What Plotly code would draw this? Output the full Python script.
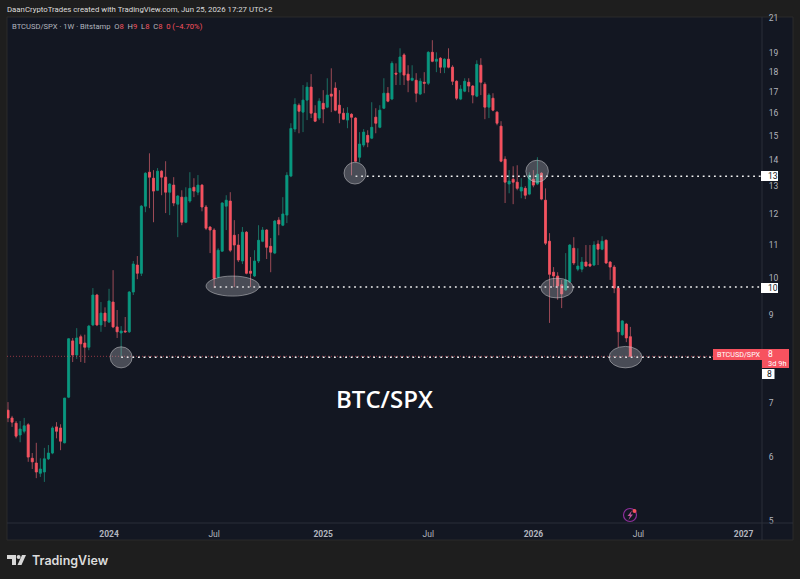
import math
import pandas as pd
import plotly.graph_objects as go

# Weekly BTCUSD/SPX ratio candles
first_week = "2023-07-10"
opens = [6.86,6.71,6.61,6.39,6.46,6.58,5.98,5.90,5.73,5.75,5.97,6.07,6.54,6.52,6.25,7.12,8.36,8.03,8.46,8.31,8.21,8.75,9.53,8.75,9.05,8.82,9.34,8.70,8.55,8.60,8.58,9.61,10.38,10.14,12.28,13.53,13.30,12.85,13.57,13.34,12.78,13.04,12.35,12.60,11.73,12.46,12.96,12.78,13.04,12.25,11.57,11.47,10.03,10.80,12.28,12.46,11.30,10.99,10.50,11.40,10.20,10.06,10.50,11.11,11.47,10.95,10.74,11.80,11.63,11.97,13.38,15.30,16.38,16.06,16.62,17.25,16.01,15.79,16.47,16.29,16.91,17.20,16.38,16.01,15.70,15.96,15.79,14.12,14.62,15.03,14.91,15.83,15.38,16.24,16.95,16.67,17.95,18.00,18.91,17.90,17.59,17.59,16.91,17.49,17.44,19.05,18.57,18.73,18.26,18.68,18.26,17.54,16.67,17.05,17.49,17.30,16.81,18.36,17.39,16.29,16.71,16.06,15.43,14.04,13.08,13.26,13.15,12.82,12.92,12.71,13.26,13.08,13.49,12.49,11.11,10.17,10.06,9.81,9.67,9.89,10.89,10.26,10.26,10.47,10.41,10.38,11.02,10.86,11.14,10.47,10.32,9.72,8.51,8.77,8.46]
highs = [7.02,6.75,6.65,6.65,6.71,6.61,6.07,6.25,5.98,6.16,6.21,6.55,6.63,6.59,7.10,8.43,8.43,8.67,8.51,8.51,8.75,9.72,9.56,9.34,9.20,9.70,10.23,9.13,8.72,8.95,9.64,10.50,10.65,12.32,13.53,14.28,13.61,13.69,13.61,13.96,13.11,13.34,12.67,12.85,12.96,13.53,13.30,13.42,13.08,12.32,11.60,11.53,10.89,12.42,12.67,12.78,11.80,11.34,11.57,11.44,10.62,10.83,11.63,11.57,11.50,11.21,11.80,11.90,12.60,13.53,15.56,16.71,16.47,17.35,17.49,17.90,16.38,16.71,17.10,17.69,18.20,17.49,17.10,16.24,16.29,16.01,15.83,15.17,15.30,15.25,16.52,16.24,16.38,17.69,17.25,18.57,18.46,19.27,19.00,18.36,18.36,17.95,17.69,18.00,19.11,19.72,19.05,18.79,18.73,19.27,18.36,17.59,17.35,17.69,17.69,17.35,18.62,18.73,17.49,16.95,16.95,16.10,15.65,14.16,13.61,13.76,13.80,13.30,13.00,13.53,13.61,14.12,13.53,12.92,11.37,10.32,10.17,9.95,10.74,11.02,11.24,10.89,10.62,10.99,10.99,11.11,11.14,11.27,11.17,10.50,10.38,9.75,8.87,8.80,8.70]
lows = [6.63,6.54,6.33,6.26,6.42,5.92,5.80,5.65,5.67,5.59,5.95,6.05,6.33,6.12,6.24,7.10,7.87,7.94,7.87,7.85,8.14,8.72,8.72,8.58,8.70,8.80,8.67,8.43,7.98,8.55,8.55,9.53,9.97,10.06,12.07,12.21,11.73,12.82,12.67,12.04,11.97,12.28,11.24,11.63,11.70,12.40,12.60,12.67,12.10,11.47,10.74,9.72,10.00,10.78,11.47,10.77,9.75,10.47,10.41,10.11,9.75,10.03,10.44,11.08,10.56,10.17,10.71,11.30,11.60,11.70,13.34,15.17,15.12,15.17,15.70,15.79,15.61,15.70,15.56,16.24,16.06,16.10,15.56,15.70,15.34,13.41,13.92,13.92,14.53,14.53,14.87,15.12,15.34,16.20,16.52,16.62,17.35,17.35,17.35,17.00,17.54,16.52,16.86,16.95,17.35,18.52,18.00,17.95,17.95,18.20,17.35,16.62,16.62,17.00,17.00,16.47,16.76,16.86,15.74,15.79,16.10,15.47,13.92,12.39,12.74,12.35,12.85,12.56,12.53,12.67,12.96,13.04,12.49,10.99,8.80,9.75,9.40,9.18,9.64,9.86,10.38,10.20,10.17,10.32,10.32,10.35,10.38,10.83,10.41,9.95,9.58,8.21,8.48,8.33,7.98]
closes = [6.71,6.63,6.37,6.50,6.56,6.00,5.92,5.75,5.80,5.97,6.07,6.52,6.46,6.28,7.10,8.41,8.03,8.43,8.29,8.21,8.72,9.53,8.75,9.05,8.85,9.37,8.70,8.58,8.60,8.58,9.61,10.41,10.14,12.28,13.49,13.34,12.82,13.57,13.34,12.78,13.08,12.39,12.64,11.73,12.60,12.92,12.82,13.04,12.25,11.53,11.47,9.99,10.83,12.39,12.49,10.83,10.99,10.53,11.40,10.14,10.14,10.50,11.14,11.47,10.92,10.77,11.77,11.67,12.01,13.41,15.33,16.42,16.10,16.62,17.25,16.01,15.65,16.57,16.20,16.86,16.81,16.15,16.01,15.74,16.01,15.83,13.96,14.66,15.17,14.74,15.38,15.56,16.15,16.95,16.57,18.46,17.90,18.80,17.85,17.59,17.69,16.95,17.54,17.44,19.05,18.57,18.68,18.26,18.68,18.26,17.54,16.71,17.15,17.54,17.30,16.86,18.41,17.49,16.29,16.86,16.15,15.56,13.96,13.15,13.19,13.15,12.92,12.96,12.67,13.41,13.04,13.45,12.53,11.05,10.11,10.06,9.78,9.56,9.95,10.99,10.44,10.35,10.47,10.35,10.35,10.99,10.86,11.11,10.44,10.32,9.72,8.58,8.85,8.43,8.00]

weeks = pd.date_range(first_week, periods=len(opens), freq="7D")

# Support/resistance levels and the week each dotted line starts from
level_prices = [13.37, 9.75, 7.98]
level_starts = ["2025-03-03", "2024-07-01", "2024-01-22"]
last_price = 8.00

# Highlighted turning points: first date, last date, lower price, upper price
highlight_start = ["2024-01-03", "2024-06-17", "2025-02-11", "2025-12-23", "2026-01-18", "2026-05-16"]
highlight_end = ["2024-02-10", "2024-09-17", "2025-03-21", "2026-01-31", "2026-03-15", "2026-07-12"]
highlight_low = [7.74, 9.50, 13.08, 13.15, 9.45, 7.74]
highlight_high = [8.22, 10.06, 13.92, 14.00, 10.00, 8.23]

# The tick at 8 is covered by the last-price tag, which states the same number
price_ticks = [5, 6, 7, 9, 10, 11, 12, 13, 14, 15, 16, 17, 18, 19, 21]
time_ticks = ["2024-01-01", "2024-07-01", "2025-01-06", "2025-07-07", "2026-01-05", "2026-07-06", "2027-01-04"]
time_labels = ["<b>2024</b>", "Jul", "<b>2025</b>", "Jul", "<b>2026</b>", "Jul", "<b>2027</b>"]

x_range = ["2023-07-08 06:00", "2027-02-05"]

UP, DOWN = "#089981", "#f7525f"
UP_WICK, DOWN_WICK = "#1b6f63", "#9c4a56"
PANEL, CHROME, EDGE = "#131722", "#1e1e1e", "#2a2e39"
TEXT = "#b2b5be"
FONT = "Roboto, Open Sans, sans-serif"

W, H = 800, 579
LEFT, RIGHT, TOP, BOTTOM = 7, 762, 17, 523


def fx(px):
    return (px - LEFT) / (RIGHT - LEFT)


def fy(py):
    return (BOTTOM - py) / (BOTTOM - TOP)


def rect(x0, y0, x1, y1, fill, line=None, layer="below"):
    return dict(type="rect", xref="paper", yref="paper", x0=fx(x0), x1=fx(x1), y0=fy(y0), y1=fy(y1),
                fillcolor=fill, line=dict(width=1 if line else 0, color=line or fill), layer=layer)


def poly(points, fill):
    d = "M" + "L".join(f"{fx(a):.5f},{fy(b):.5f}" for a, b in points) + "Z"
    return dict(type="path", xref="paper", yref="paper", path=d, fillcolor=fill, line=dict(width=0), layer="above")


def disc(cx, cy, r, fill, line=None):
    return dict(type="circle", xref="paper", yref="paper", x0=fx(cx - r), x1=fx(cx + r), y0=fy(cy - r), y1=fy(cy + r),
                fillcolor=fill, line=dict(width=1.2 if line else 0, color=line or fill), layer="above")


fig = go.Figure()

# Wicks sit behind the brighter candle bodies
fig.add_trace(go.Candlestick(
    x=weeks, open=opens, high=highs, low=lows, close=closes,
    increasing=dict(line=dict(color=UP_WICK, width=1), fillcolor=UP_WICK),
    decreasing=dict(line=dict(color=DOWN_WICK, width=1), fillcolor=DOWN_WICK),
    showlegend=False, hoverinfo="skip"))
fig.add_trace(go.Candlestick(
    x=weeks, open=opens, high=opens, low=opens, close=closes,
    increasing=dict(line=dict(color=UP, width=0.4), fillcolor=UP),
    decreasing=dict(line=dict(color=DOWN, width=0.4), fillcolor=DOWN),
    showlegend=False, hoverinfo="skip"))

# Last-price line across the whole pane
fig.add_trace(go.Scatter(
    x=x_range, y=[last_price, last_price], mode="lines",
    line=dict(color="rgba(247,82,95,0.55)", width=1, dash="1px,2px"),
    showlegend=False, hoverinfo="skip"))

for price, start in zip(level_prices, level_starts):
    fig.add_trace(go.Scatter(
        x=[start, x_range[1]], y=[price, price], mode="lines",
        line=dict(color="#f4f4f4", width=1.5, dash="1.8px,3.8px"),
        showlegend=False, hoverinfo="skip"))

shapes = [
    # Frame of the chart pane and its axis strips
    rect(LEFT, TOP, 793, 540, PANEL, "#2b2b2b"),
    dict(type="line", xref="paper", yref="paper", x0=fx(RIGHT), x1=fx(RIGHT), y0=fy(TOP), y1=fy(540),
         line=dict(color=EDGE, width=1), layer="above"),
    dict(type="line", xref="paper", yref="paper", x0=0, x1=fx(793), y0=0, y1=0,
         line=dict(color=EDGE, width=1), layer="above"),
]

for a, b, lo, hi in zip(highlight_start, highlight_end, highlight_low, highlight_high):
    shapes.append(dict(type="circle", xref="x", yref="y", x0=a, x1=b, y0=lo, y1=hi,
                       fillcolor="rgba(190,190,195,0.32)", line=dict(color="rgba(205,205,210,0.5)", width=1),
                       layer="above"))

# Price tags
shapes += [
    rect(713, 349, RIGHT, 360, DOWN, layer="above"),
    rect(RIGHT, 349, 789, 368, DOWN, layer="above"),
    rect(761, 171, 778, 181, "#ffffff", layer="above"),
    rect(761, 283, 778, 293, "#ffffff", layer="above"),
    rect(762, 369, 774.5, 379, "#ffffff", layer="above"),
]

# Lightning badge on the time axis
shapes += [
    disc(630, 515, 6.5, "rgba(0,0,0,0)", "#8e2f9c"),
    poly([(632, 510.5), (627.5, 516), (630, 516), (628.5, 520), (633, 514.5), (630.5, 514.5)], "#c2559f"),
    disc(634.5, 511, 2, DOWN),
]

# TradingView mark in the footer
shapes += [
    poly([(7, 555), (16, 555), (16, 565), (12, 565), (12, 559), (7, 559)], "#d8d8d8"),
    disc(18.6, 557, 2, "#d8d8d8"),
    poly([(22, 555), (26, 555), (21.5, 565), (17.5, 565)], "#d8d8d8"),
]


def note(text, px, py, size=8, color=TEXT, family=FONT, weight=None):
    font = dict(size=size, color=color, family=family)
    if weight:
        font["weight"] = weight
    return dict(text=text, xref="paper", yref="paper", x=fx(px), y=fy(py), xanchor="left", yanchor="middle",
                showarrow=False, align="left", font=font, borderpad=0)


red = f"color:{DOWN}"
gap = "&nbsp;&nbsp;"
legend = (f"BTCUSD/SPX · 1W · Bitstamp{gap}"
          f"O<span style='{red}'>8</span>{gap}H<span style='{red}'>9</span>{gap}"
          f"L<span style='{red}'>8</span>{gap}C<span style='{red}'>8</span>{gap}"
          f"<span style='{red}'>0 (−4.70%)</span>")

annotations = [
    note("DaanCryptoTrades created with TradingView.com, Jun 25, 2026 17:27 UTC+2", 6, 9, size=7.8,
         color="#dddddd"),
    note(legend, 11, 26, size=7.6),
    note("BTC/SPX", 335, 398, size=24, color="#ffffff", family="Open Sans, sans-serif", weight=600),
    note("TradingView", 31, 560, size=12.5, color="#dcdcdc", family="Inter, sans-serif", weight=600),
    note("BTCUSD/SPX", 716, 354.5, size=7.2, color="#ffffff"),
    note("8", 767, 354, size=8.5, color="#ffffff"),
    note("3d 9h", 767, 363, size=7.5, color="#ffffff"),
    note("13", 767, 176, size=8.5, color=PANEL),
    note("10", 767, 288, size=8.5, color=PANEL),
    note("8", 766, 374, size=8.5, color=PANEL),
]

fig.update_layout(
    width=W, height=H, autosize=False,
    margin=dict(l=LEFT, r=W - RIGHT, t=TOP, b=H - BOTTOM, pad=0),
    paper_bgcolor=CHROME, plot_bgcolor=PANEL,
    showlegend=False,
    shapes=shapes, annotations=annotations,
    xaxis=dict(type="date", range=x_range, tickmode="array", tickvals=time_ticks, ticktext=time_labels,
               rangeslider=dict(visible=False), showgrid=False, zeroline=False, showline=False,
               ticks="outside", ticklen=3, tickcolor="rgba(0,0,0,0)",
               tickfont=dict(size=8.5, color=TEXT, family=FONT)),
    yaxis=dict(type="log", side="right", range=[math.log10(4.9715), math.log10(21.07)],
               tickmode="array", tickvals=price_ticks, ticktext=[str(t) for t in price_ticks],
               showgrid=False, zeroline=False, showline=False,
               ticks="outside", ticklen=4, tickcolor="rgba(0,0,0,0)",
               tickfont=dict(size=8.5, color=TEXT, family=FONT)),
)

fig.write_html("out.html", config=dict(displayModeBar=False))
